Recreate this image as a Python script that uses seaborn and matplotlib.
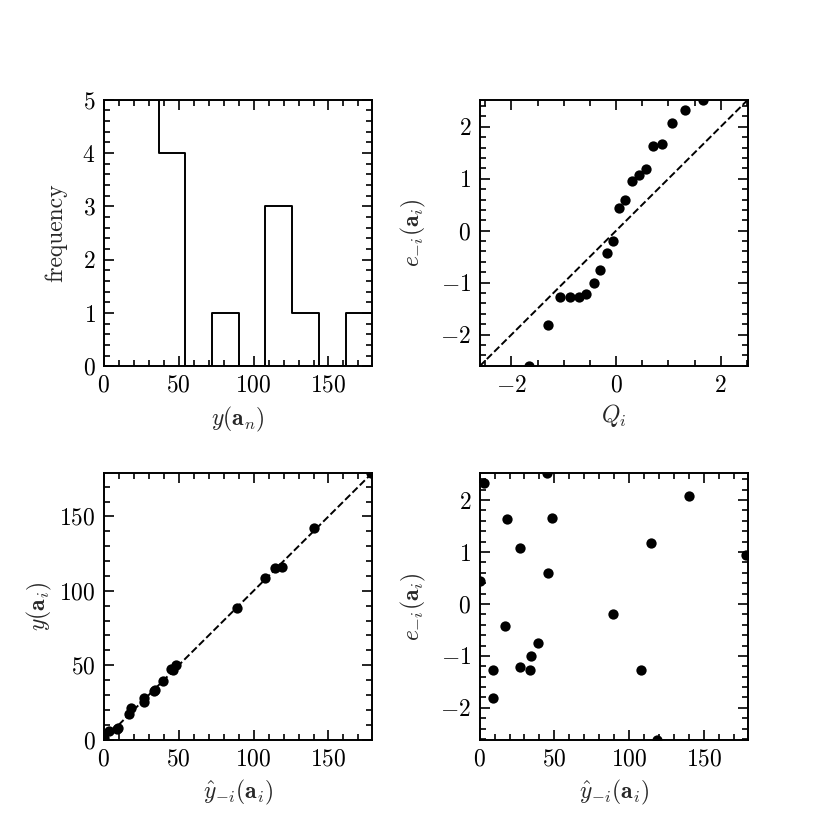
"""
Leave-one-out diagnostics: histogram, QQ plot, observed vs predicted, residuals
"""
import matplotlib
import matplotlib.pyplot as plt
import numpy as np
import seaborn as sns
from matplotlib.ticker import AutoMinorLocator, MultipleLocator

matplotlib.use("Agg")

# leave-one-out predictions, observed values and standardized residuals
y_hat = [0.4, 3.1, 8.7, 9.3, 16.7, 18.2, 26.7, 26.7, 33.8, 34.4,
         39.3, 44.9, 46.0, 48.2, 88.9, 107.8, 114.2, 118.7, 140.0, 178.2]
y_obs = [1.0, 5.5, 6.8, 8.0, 17.5, 21.0, 27.9, 25.5, 32.5, 33.4,
         39.5, 47.5, 46.6, 50.0, 88.7, 108.5, 115.4, 116.0, 142.2, 179.2]
resid = [0.44, 2.33, -1.81, -1.27, -0.43, 1.63, 1.08, -1.21, -1.27, -1.00,
         -0.75, 2.52, 0.59, 1.66, -0.19, -1.28, 1.18, -2.61, 2.08, 0.95]
# theoretical normal quantiles Q_i
q_theo = [-1.67, -1.31, -1.07, -0.88, -0.71, -0.57, -0.43, -0.30, -0.18, -0.06,
          0.06, 0.18, 0.30, 0.43, 0.57, 0.71, 0.88, 1.07, 1.31, 1.67]

sns.set_theme(style="ticks")
plt.rcParams["font.family"] = "serif"
plt.rcParams["font.serif"] = ["cmr10"]
plt.rcParams["mathtext.fontset"] = "cm"
plt.rcParams["axes.formatter.use_mathtext"] = True
plt.rcParams["font.size"] = 17
plt.rcParams["axes.labelsize"] = 17
plt.rcParams["xtick.labelsize"] = 17
plt.rcParams["ytick.labelsize"] = 17
plt.rcParams["axes.linewidth"] = 1.4

fig, axes = plt.subplots(2, 2, figsize=(8.31, 8.31), dpi=100)
plt.subplots_adjust(left=0.125, right=0.9, top=0.88, bottom=0.11,
                    wspace=0.4, hspace=0.4)

ymax = max(y_obs)
e_lim = (min(resid), max(resid))
dot = 55

# histogram
ax = axes[0, 0]
sns.histplot(x=y_obs, bins=10, element="step", fill=False, color="black",
             linewidth=1.4, ax=ax)
ax.set_xlim(0, ymax)
ax.set_ylim(0, 5)
ax.set_xlabel(r"$y(\mathbf{a}_n)$", labelpad=6)
ax.set_ylabel("frequency", labelpad=11)
ax.xaxis.set_major_locator(MultipleLocator(50))
ax.yaxis.set_major_locator(MultipleLocator(1))

# QQ plot
ax = axes[0, 1]
sns.scatterplot(x=q_theo, y=np.sort(resid), color="black", s=dot,
                linewidth=0, ax=ax)
ax.axline((0, 0), slope=1, color="black", ls="--", lw=1.4)
ax.set_xlim(*e_lim)
ax.set_ylim(*e_lim)
ax.set_xlabel(r"$Q_i$")
ax.set_ylabel(r"$e_{-i}(\mathbf{a}_i)$", labelpad=9)
ax.xaxis.set_major_locator(MultipleLocator(2))
ax.yaxis.set_major_locator(MultipleLocator(1))

# observed vs predicted
ax = axes[1, 0]
sns.scatterplot(x=y_hat, y=y_obs, color="black", s=dot, linewidth=0, ax=ax)
ax.axline((0, 0), slope=1, color="black", ls="--", lw=1.4)
ax.set_xlim(0, ymax)
ax.set_ylim(0, ymax)
ax.set_xlabel(r"$\hat{y}_{-i}(\mathbf{a}_i)$", labelpad=6)
ax.set_ylabel(r"$y(\mathbf{a}_i)$")
ax.xaxis.set_major_locator(MultipleLocator(50))
ax.yaxis.set_major_locator(MultipleLocator(50))

# residuals vs predicted
ax = axes[1, 1]
sns.scatterplot(x=y_hat, y=resid, color="black", s=dot, linewidth=0, ax=ax)
ax.set_xlim(0, ymax)
ax.set_ylim(*e_lim)
ax.set_xlabel(r"$\hat{y}_{-i}(\mathbf{a}_i)$", labelpad=6)
ax.set_ylabel(r"$e_{-i}(\mathbf{a}_i)$", labelpad=9)
ax.xaxis.set_major_locator(MultipleLocator(50))
ax.yaxis.set_major_locator(MultipleLocator(1))

for ax in axes.flat:
    ax.xaxis.set_minor_locator(AutoMinorLocator())
    ax.yaxis.set_minor_locator(AutoMinorLocator())
    ax.tick_params(which="both", direction="in", top=True, right=True,
                   width=1.2, colors="black")
    ax.tick_params(which="major", length=7, pad=6)
    ax.tick_params(which="minor", length=4)
    for spine in ax.spines.values():
        spine.set_visible(True)
        spine.set_color("black")

fig.savefig("out.png", dpi=100)
